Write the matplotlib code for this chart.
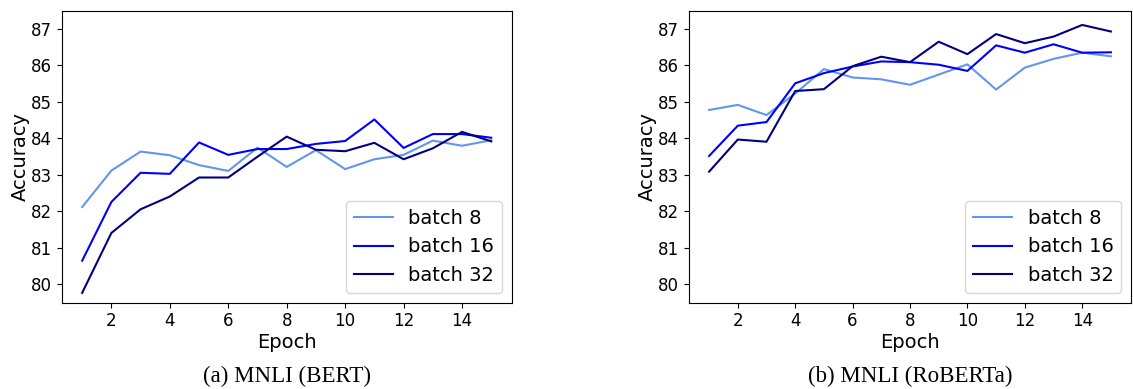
import numpy as np
import matplotlib
matplotlib.use("Agg")
import matplotlib.pyplot as plt

epochs = np.arange(1, 16)

bert_b8 = [82.12, 83.12, 83.64, 83.54, 83.27, 83.11, 83.75, 83.22, 83.68, 83.16, 83.43, 83.55, 83.94, 83.80, 83.95]
bert_b16 = [80.65, 82.26, 83.06, 83.03, 83.89, 83.55, 83.71, 83.71, 83.85, 83.93, 84.52, 83.74, 84.12, 84.12, 84.02]
bert_b32 = [79.77, 81.41, 82.06, 82.41, 82.93, 82.93, 83.50, 84.05, 83.69, 83.65, 83.88, 83.43, 83.73, 84.18, 83.92]

roberta_b8 = [84.78, 84.92, 84.64, 85.23, 85.90, 85.67, 85.62, 85.47, 85.75, 86.03, 85.34, 85.94, 86.18, 86.35, 86.25]
roberta_b16 = [83.52, 84.35, 84.45, 85.51, 85.79, 85.97, 86.11, 86.09, 86.02, 85.85, 86.55, 86.35, 86.58, 86.35, 86.36]
roberta_b32 = [83.09, 83.97, 83.91, 85.30, 85.35, 85.98, 86.24, 86.09, 86.65, 86.31, 86.86, 86.61, 86.79, 87.11, 86.93]

labels = ["batch 8", "batch 16", "batch 32"]
colors = ["cornflowerblue", "blue", "navy"]
captions = ["(a) MNLI (BERT)", "(b) MNLI (RoBERTa)"]

fig = plt.figure(figsize=(11.33, 3.89), dpi=100)
W, H = 1133, 389
ax1 = fig.add_axes([61.7 / W, (H - 302.7) / H, 450 / W, 292 / H])
ax2 = fig.add_axes([689 / W, (H - 302.7) / H, 442 / W, 292 / H])

panels = [(ax1, [bert_b8, bert_b16, bert_b32]), (ax2, [roberta_b8, roberta_b16, roberta_b32])]
for i, (ax, series) in enumerate(panels):
    for s, lab, c in zip(series, labels, colors):
        ax.plot(epochs, s, color=c, label=lab, linewidth=1.5)
    ax.set_ylim(79.5, 87.5)
    ax.set_xlim(0.3, 15.7)
    ax.set_xticks([2, 4, 6, 8, 10, 12, 14])
    ax.set_yticks([80, 81, 82, 83, 84, 85, 86, 87])
    ax.tick_params(labelsize=12)
    ax.set_xlabel("Epoch", fontsize=14, labelpad=2)
    ax.set_ylabel("Accuracy", fontsize=14, labelpad=1)
    ax.legend(loc="lower right", fontsize=14)
    bb = ax.get_position()
    fig.text((bb.x0 + bb.x1) / 2, 2 / H, captions[i], ha="center", va="bottom",
             fontsize=16.5, family="Liberation Serif")

fig.savefig("out.png", dpi=100)
